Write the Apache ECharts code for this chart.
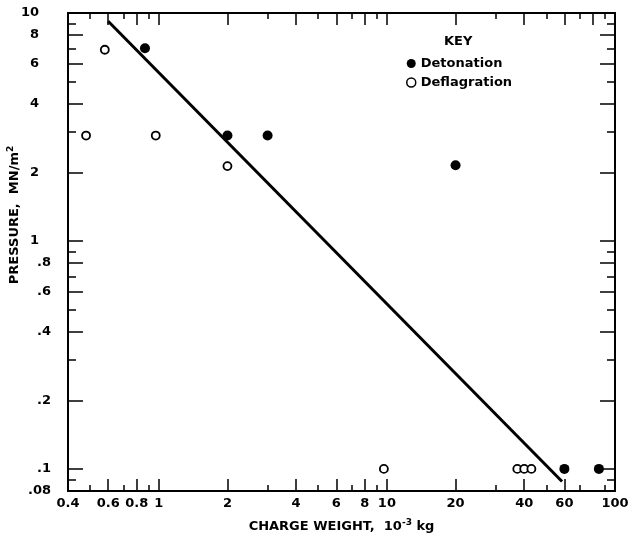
<!DOCTYPE html>
<html>
<head>
<meta charset="utf-8">
<script src="https://cdn.jsdelivr.net/npm/echarts@6/dist/echarts.min.js"></script>
<style>
  html, body { margin: 0; padding: 0; background: #fff; }
  #chart { width: 633px; height: 536px; }
</style>
</head>
<body>
<div id="chart"></div>
<script>
  // charge weight (10^-3 kg) and pressure (MN/m^2)
  const detonationW = [0.87, 2, 3, 20, 60, 85];
  const detonationP = [7.0, 2.9, 2.9, 2.15, 0.1, 0.1];

  const deflagrationW = [0.48, 0.58, 0.97, 2, 9.7, 37.3, 40, 43];
  const deflagrationP = [2.9, 6.9, 2.9, 2.13, 0.1, 0.1, 0.1, 0.1];

  // fitted line end points
  const lineW = [0.6, 58.6];
  const lineP = [9.2, 0.088];

  const xTicks = [0.4, 0.6, 0.8, 1, 2, 4, 6, 8, 10, 20, 40, 60, 80, 100];
  const xMinor = [0.5, 0.7, 0.9, 3, 5, 7, 9, 30, 50, 70, 90];
  const yTicks = [0.08, 0.1, 0.2, 0.4, 0.6, 0.8, 1, 2, 4, 6, 8, 10];
  const yMinor = [0.09, 0.3, 0.5, 0.7, 0.9, 3, 5, 7, 9];

  const X_MIN = 0.4, X_MAX = 100;
  const Y_MIN = 0.08, Y_MAX = 10;

  const FONT = "DejaVu Sans";
  const lg = Math.log10;

  const pairs = (ws, ps) => ws.map((w, i) => [lg(w), lg(ps[i])]);

  const fmtX = (v) => String(Number(Math.pow(10, v).toPrecision(3)));
  // whole numbers sit further left than the decimals in the original
  const fmtY = (v) => {
    const n = Number(Math.pow(10, v).toPrecision(3));
    if (n < 1) return "{d|" + String(n).replace(/^0/, "") + "}";
    return "{i|" + n + "}";
  };

  function line(show) {
    return { show, onZero: false, lineStyle: { color: "#000", width: 2 } };
  }

  const labelFont = { color: "#000", fontFamily: FONT, fontWeight: "bold", fontSize: 13 };

  function xAxis(position, ticks, len, labels) {
    return {
      type: "value",
      position,
      min: lg(X_MIN),
      max: lg(X_MAX),
      axisLine: line(labels !== undefined),
      axisTick: {
        show: true, inside: true, length: len,
        customValues: ticks.map(lg),
        lineStyle: { color: "#000", width: 1.5 },
      },
      axisLabel: labels ? {
        show: true,
        customValues: ticks.map(lg),
        formatter: fmtX,
        margin: 6,
        ...labelFont,
        showMinLabel: true,
        showMaxLabel: true,
        hideOverlap: false,
      } : { show: false },
      splitLine: { show: false },
    };
  }

  function yAxis(position, ticks, len, labels) {
    return {
      type: "value",
      position,
      min: lg(Y_MIN),
      max: lg(Y_MAX),
      axisLine: line(labels !== undefined),
      axisTick: {
        show: true, inside: true, length: len,
        customValues: ticks.map(lg),
        lineStyle: { color: "#000", width: 1.5 },
      },
      axisLabel: labels ? {
        show: true,
        customValues: ticks.map(lg),
        formatter: fmtY,
        margin: 17,
        ...labelFont,
        rich: {
          i: { ...labelFont, padding: [0, 12, 0, 0] },
          d: { ...labelFont },
        },
        showMinLabel: true,
        showMaxLabel: true,
        hideOverlap: false,
      } : { show: false },
      splitLine: { show: false },
    };
  }

  const supStyle = { fontSize: 9, fontWeight: "bold", fontFamily: FONT, verticalAlign: "bottom", padding: [0, 0, 8, 0] };

  const bottom = xAxis("bottom", xTicks, 12, true);
  bottom.name = "CHARGE WEIGHT,  10{sup|-3} kg";
  bottom.nameLocation = "middle";
  bottom.nameGap = 27;
  bottom.nameMoveOverlap = false;
  bottom.nameTextStyle = { ...labelFont, rich: { sup: supStyle } };

  const left = yAxis("left", yTicks, 15, true);
  left.name = "PRESSURE,  MN/m{sup|2}";
  left.nameLocation = "middle";
  left.nameRotate = 90;
  left.nameGap = 45;
  left.nameMoveOverlap = false;
  left.nameTextStyle = { ...labelFont, padding: [0, 0, 0, 74], rich: { sup: supStyle } };

  const option = {
    animation: false,
    backgroundColor: "#fff",
    grid: { left: 68, right: 18, top: 13, bottom: 45, outerBoundsMode: "none" },
    xAxis: [
      bottom,
      xAxis("bottom", xMinor, 6),
      xAxis("top", xTicks, 12, false),
      xAxis("top", xMinor, 6),
    ],
    yAxis: [
      left,
      yAxis("left", yMinor, 8),
      yAxis("right", yTicks, 15, false),
      yAxis("right", yMinor, 8),
    ],
    graphic: [{
      type: "text",
      left: 444,
      top: 35,
      style: { text: "KEY", font: "bold 13px " + FONT, fill: "#000" },
    }],
    legend: {
      orient: "vertical",
      left: 401,
      top: 52,
      itemWidth: 9,
      itemHeight: 9,
      itemGap: 6,
      data: [
        { name: "Detonation" },
        { name: "Deflagration", itemStyle: { borderWidth: 1.5 } },
      ],
      textStyle: { color: "#000", fontFamily: FONT, fontWeight: "bold", fontSize: 13 },
    },
    series: [
      {
        type: "line",
        data: pairs(lineW, lineP),
        symbol: "none",
        lineStyle: { color: "#000", width: 3 },
        silent: true,
        z: 1,
      },
      {
        name: "Detonation",
        type: "scatter",
        data: pairs(detonationW, detonationP),
        symbol: "circle",
        symbolSize: 10,
        itemStyle: { color: "#000", opacity: 1 },
        z: 3,
      },
      {
        name: "Deflagration",
        type: "scatter",
        data: pairs(deflagrationW, deflagrationP),
        symbol: "circle",
        symbolSize: 8,
        itemStyle: { color: "#fff", borderColor: "#000", borderWidth: 1.8, opacity: 1 },
        z: 3,
      },
    ],
  };

  echarts.init(document.getElementById("chart")).setOption(option);
</script>
</body>
</html>
